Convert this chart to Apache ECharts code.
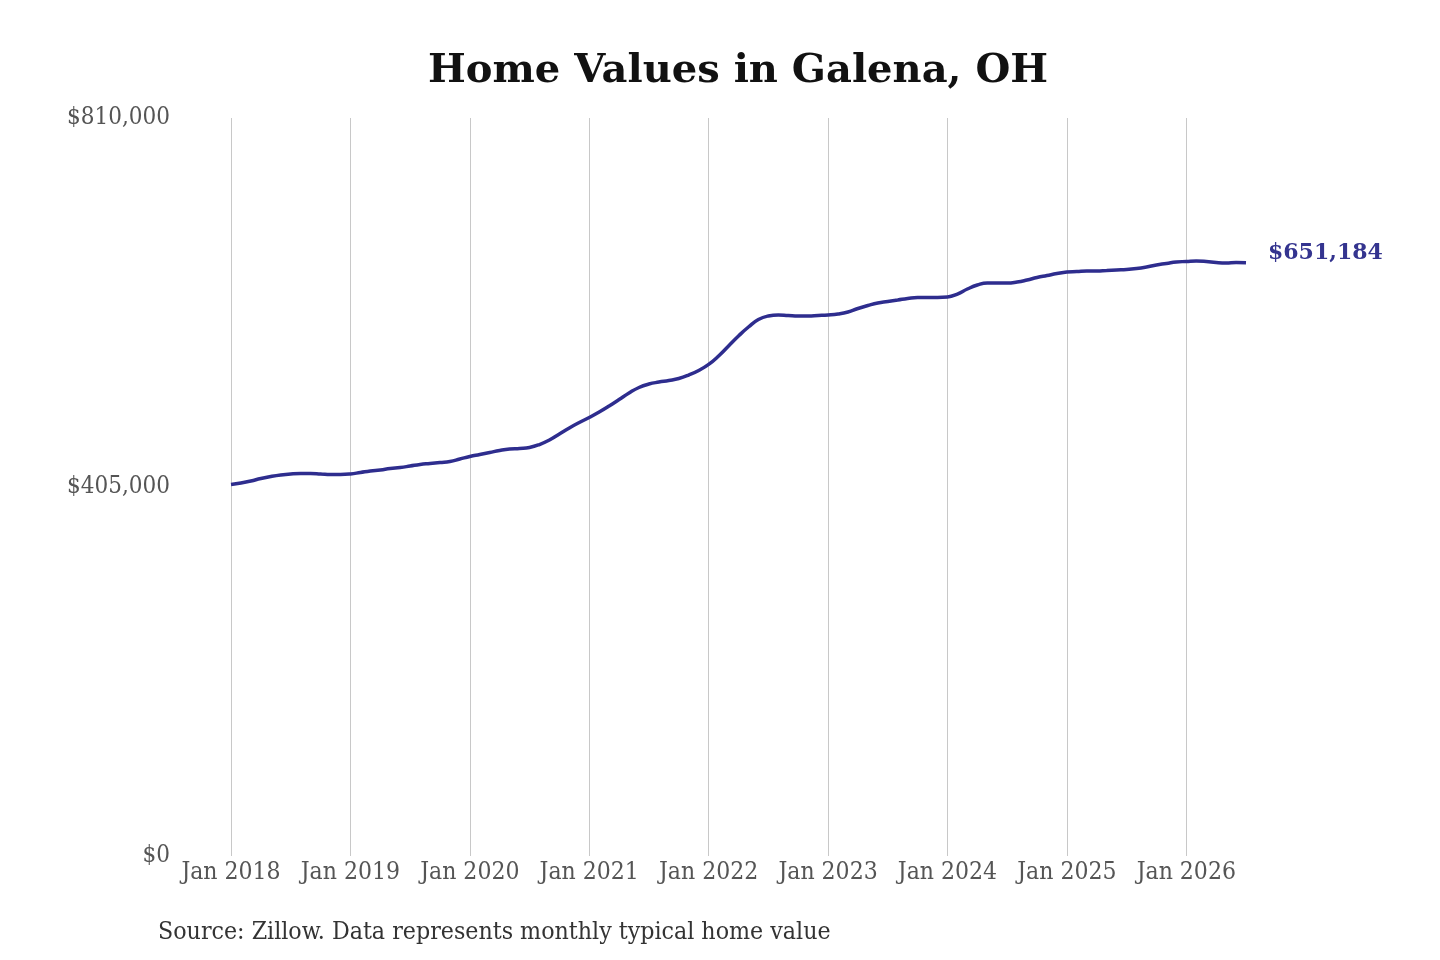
<!DOCTYPE html>
<html lang="en">

<head>
    <meta charset="UTF-8">
    <title>Home Values in Galena, OH</title>
    <script src="https://cdn.jsdelivr.net/npm/echarts@6/dist/echarts.min.js"></script>
    <style>
        body { margin: 0; background: #fff; }
        #main { width: 1440px; height: 960px; }
    </style>
</head>

<body>
    <div id="main"></div>
    <script>
        // monthly typical home value, Jan 2018 .. Jul 2026
        var startYear = 2018;
        var values = [
            407700, 409400, 411600, 414300, 416500, 418200, 419300, 419800, 419800, 419300, 418700, 418700,
            419300, 420900, 422600, 423700, 425300, 426400, 428000, 429700, 430800, 431900, 433000, 435700,
            438500, 440700, 442900, 445100, 446700, 447300, 448400, 451600, 456600, 463200, 469800, 475800,
            481300, 487300, 493900, 501000, 508200, 514200, 518000, 520200, 521900, 524100, 527900, 532900,
            539500, 548800, 559800, 570700, 580600, 588800, 592700, 593800, 593200, 592700, 592700, 593200,
            593800, 594900, 597100, 600900, 604200, 607000, 608600, 610200, 611900, 613000, 613000, 613000,
            613500, 616800, 622300, 626700, 628900, 628900, 628900, 630000, 632200, 634900, 637100, 639300,
            641000, 641500, 642100, 642100, 642600, 643200, 643700, 644800, 646500, 648700, 650300, 652000,
            652500, 653000, 652500, 651400, 650900, 651400, 651184
        ];
        var monthNames = ['Jan', 'Feb', 'Mar', 'Apr', 'May', 'Jun', 'Jul', 'Aug', 'Sep', 'Oct', 'Nov', 'Dec'];
        var yTicks = [0, 405000, 810000];

        var months = [];
        for (var i = 0; i < values.length; i++) {
            months.push(monthNames[i % 12] + ' ' + (startYear + Math.floor(i / 12)));
        }

        var serif = '"DejaVu Serif Condensed", "DejaVu Serif", serif';
        var isJan = function (idx) { return idx % 12 === 0; };

        var myChart = echarts.init(document.getElementById('main'));
        var option = {
            animation: false,
            title: [{
                text: 'Home Values in Galena, OH',
                left: 423,
                top: 47,
                textStyle: { fontFamily: '"DejaVu Serif", serif', fontWeight: 'bold', fontSize: 40, color: '#111' }
            }, {
                text: 'Source: Zillow. Data represents monthly typical home value',
                left: 153,
                top: 915,
                textStyle: { fontFamily: serif, fontWeight: 'normal', fontSize: 24.7, color: '#333' }
            }],
            grid: { left: 231, right: 194, top: 118, bottom: 104, containLabel: false },
            xAxis: {
                type: 'category',
                data: months,
                boundaryGap: false,
                axisLine: { show: false },
                axisTick: { show: false },
                axisLabel: {
                    interval: isJan,
                    margin: 4,
                    fontFamily: serif,
                    fontSize: 24.5,
                    color: '#555'
                },
                splitLine: {
                    show: true,
                    interval: isJan,
                    lineStyle: { color: '#c8c8c8', width: 1 }
                }
            },
            yAxis: {
                type: 'value',
                min: yTicks[0],
                max: yTicks[yTicks.length - 1],
                interval: yTicks[1] - yTicks[0],
                axisLine: { show: false },
                axisTick: { show: false },
                splitLine: { show: false },
                axisLabel: {
                    margin: 61,
                    fontFamily: serif,
                    fontSize: 24,
                    color: '#555',
                    formatter: function (v) { return '$' + v.toLocaleString('en-US'); }
                }
            },
            series: [{
                type: 'line',
                data: values,
                smooth: true,
                symbol: 'none',
                lineStyle: { color: '#2e2d8e', width: 3.5 },
                endLabel: {
                    show: true,
                    distance: 22,
                    offset: [0, -9],
                    fontFamily: '"DejaVu Serif", serif',
                    fontWeight: 'bold',
                    fontSize: 22,
                    color: '#34348f',
                    formatter: function (p) { return '$' + p.value.toLocaleString('en-US'); }
                }
            }]
        };
        myChart.setOption(option);
    </script>
</body>

</html>
